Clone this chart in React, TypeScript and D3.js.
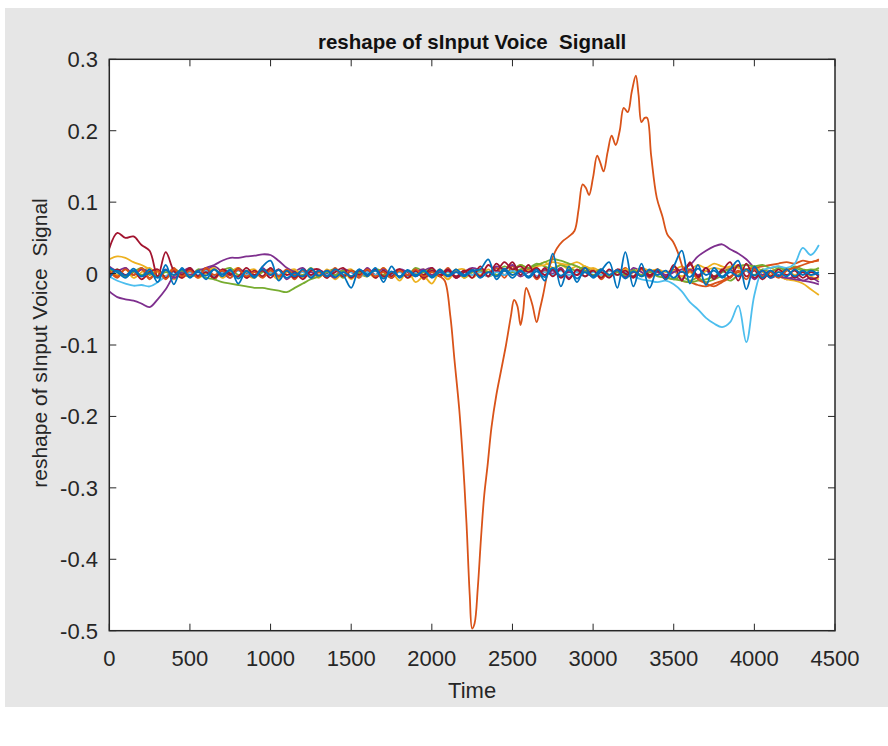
import React from 'react';
import * as d3 from 'd3';

const W = 888;
const H = 746;
const STEP = 50;

const xTicks = [0, 500, 1000, 1500, 2000, 2500, 3000, 3500, 4000, 4500];
const yTicks = [0.3, 0.2, 0.1, 0, -0.1, -0.2, -0.3, -0.4, -0.5];
const yTickLabels = ['0.3', '0.2', '0.1', '0', '-0.1', '-0.2', '-0.3', '-0.4', '-0.5'];

const titleText = 'reshape of sInput Voice  Signall';
const xLabelText = 'Time';
const yLabelText = 'reshape of sInput Voice  Signal';

// uniformly sampled series (every 50 time units, 0..4400)
const blueA = [0.008, 0.002, -0.006, 0.004, -0.004, 0.006, -0.012, 0.012, -0.015, 0.008, -0.006, 0.004, -0.008, 0.006, -0.004, 0.006, -0.014, 0.004, -0.006, 0.010, 0.018, -0.010, 0.004, -0.004, 0.006, -0.006, 0.004, -0.004, 0.006, -0.002, -0.020, 0.006, -0.004, 0.008, -0.012, 0.010, -0.006, 0.004, -0.004, 0.004, -0.004, 0.006, -0.004, 0.002, -0.004, 0.004, 0.006, 0.020, -0.008, 0.004, -0.006, 0.004, -0.004, 0.006, -0.010, 0.028, -0.018, 0.010, -0.012, 0.008, -0.006, 0.004, 0.016, -0.020, 0.030, -0.018, 0.014, -0.020, 0.006, -0.008, 0.010, 0.032, -0.014, 0.012, -0.016, 0.008, -0.004, 0.006, 0.018, -0.022, 0.010, -0.006, 0.004, -0.004, 0.006, -0.004, 0.004, -0.002, 0.002];
const yellowA = [0.020, 0.024, 0.022, 0.016, 0.012, 0.006, 0.002, -0.006, 0.004, -0.004, 0.006, -0.006, 0.002, 0.008, -0.004, 0.004, -0.006, 0.002, 0.006, -0.004, 0.004, -0.006, 0.002, 0.006, -0.004, 0.004, -0.006, 0.006, -0.002, 0.004, -0.008, 0.004, -0.004, 0.006, -0.006, 0.002, -0.010, 0.004, -0.012, -0.004, -0.014, 0.002, -0.008, 0.006, -0.006, 0.004, -0.002, 0.006, -0.004, 0.004, -0.002, 0.006, 0.004, 0.010, 0.012, 0.016, 0.014, 0.012, 0.016, 0.010, 0.006, -0.004, 0.004, -0.002, 0.006, 0.002, 0.008, 0.004, 0.006, 0.002, 0.004, -0.004, 0.002, -0.006, 0.004, 0.008, 0.006, 0.010, 0.008, 0.004, 0.006, 0.002, -0.002, -0.004, -0.008, -0.010, -0.014, -0.022, -0.030];
const purpleA = [-0.025, -0.033, -0.036, -0.038, -0.042, -0.047, -0.036, -0.022, -0.004, 0.002, -0.002, 0.004, 0.008, 0.012, 0.018, 0.022, 0.022, 0.024, 0.025, 0.027, 0.026, 0.018, 0.008, 0.002, -0.004, 0.002, -0.004, 0.004, -0.002, 0.004, -0.004, 0.002, 0.004, -0.004, 0.006, -0.002, 0.004, -0.004, 0.002, 0.006, -0.002, 0.004, -0.004, 0.002, -0.002, 0.004, -0.004, 0.002, 0.004, -0.002, 0.004, -0.004, 0.002, 0.006, -0.002, 0.004, -0.004, 0.002, -0.002, 0.004, -0.004, 0.002, -0.002, 0.004, -0.004, 0.002, -0.002, 0.004, 0.002, -0.004, 0.002, 0.006, 0.012, 0.024, 0.032, 0.038, 0.041, 0.034, 0.028, 0.020, 0.008, -0.002, 0.004, -0.004, -0.006, -0.008, -0.010, -0.012, -0.015];
const greenA = [0.006, 0.002, -0.004, 0.004, -0.002, 0.004, -0.004, 0.002, -0.002, 0.004, -0.004, -0.002, -0.006, -0.008, -0.012, -0.014, -0.016, -0.018, -0.020, -0.020, -0.022, -0.024, -0.026, -0.020, -0.014, -0.008, -0.004, 0.002, -0.002, 0.004, -0.004, 0.002, -0.002, 0.004, -0.002, 0.002, -0.004, 0.004, -0.002, 0.002, 0.006, -0.002, 0.002, -0.004, 0.002, -0.002, 0.004, 0.002, -0.002, 0.004, 0.002, 0.006, 0.008, 0.012, 0.016, 0.020, 0.018, 0.014, 0.010, 0.004, -0.002, 0.002, -0.004, 0.002, -0.002, 0.004, -0.002, 0.002, -0.004, -0.006, -0.008, -0.010, -0.012, -0.010, -0.008, -0.004, 0.002, 0.006, 0.010, 0.012, 0.010, 0.012, 0.008, 0.010, 0.006, 0.008, 0.004, 0.006, 0.004];
const cyanA = [-0.004, -0.010, -0.014, -0.017, -0.016, -0.018, -0.012, -0.004, 0.002, -0.004, 0.002, -0.002, 0.004, -0.004, 0.002, -0.002, 0.004, -0.002, 0.002, -0.004, 0.002, -0.002, 0.004, -0.002, 0.002, -0.004, 0.002, -0.002, 0.004, -0.002, 0.002, -0.004, 0.002, -0.002, 0.004, -0.002, 0.002, -0.004, 0.002, -0.002, 0.004, -0.002, 0.002, -0.004, 0.002, -0.002, 0.002, -0.004, 0.002, -0.002, 0.004, -0.002, 0.002, -0.004, 0.002, -0.002, 0.004, -0.002, 0.002, -0.004, 0.002, -0.002, 0.004, -0.002, 0.002, -0.004, -0.008, -0.010, -0.012, -0.010, -0.015, -0.025, -0.040, -0.050, -0.062, -0.070, -0.075, -0.068, -0.045, -0.096, -0.030, 0.004, 0.008, 0.010, 0.008, 0.014, 0.036, 0.026, 0.040];
const darkRedA = [0.035, 0.057, 0.050, 0.052, 0.040, 0.032, -0.004, 0.030, 0.004, -0.006, 0.006, -0.004, 0.008, -0.006, 0.004, -0.002, 0.006, -0.006, 0.004, -0.004, 0.008, -0.004, 0.004, -0.006, 0.006, -0.002, 0.004, -0.006, 0.006, -0.004, 0.004, -0.002, 0.006, -0.006, 0.004, -0.004, 0.006, -0.002, 0.004, -0.006, 0.004, -0.002, 0.006, -0.004, 0.004, -0.006, 0.010, -0.004, 0.014, 0.004, 0.016, -0.002, 0.012, -0.006, 0.008, -0.004, 0.006, -0.008, 0.006, -0.004, 0.004, -0.006, 0.006, -0.002, 0.004, -0.006, 0.008, -0.004, 0.006, -0.008, 0.012, -0.010, 0.016, -0.006, 0.008, -0.004, 0.004, 0.016, -0.010, 0.014, -0.006, 0.004, -0.004, 0.006, -0.002, 0.004, -0.006, 0.002, -0.004];
const blueB = [-0.006, 0.004, -0.003, 0.007, -0.004, 0.001, -0.006, 0.005, -0.002, 0.006, -0.005, 0.002, -0.003, 0.006, -0.001, 0.004, -0.007, 0.003, -0.004, 0.006, -0.002, 0.005, -0.006, 0.001, -0.004, 0.007, -0.003, 0.004, -0.005, 0.002, -0.004, 0.006, -0.001, 0.004, -0.007, 0.003, -0.004, 0.005, -0.002, 0.004, -0.006, 0.002, -0.003, 0.006, -0.002, 0.005, -0.006, 0.002, -0.004, 0.007, -0.002, 0.004, -0.006, 0.003, -0.005, 0.008, -0.003, 0.005, -0.007, 0.002, -0.004, 0.006, -0.002, 0.005, -0.007, 0.003, -0.004, 0.006, -0.002, 0.004, -0.006, 0.003, -0.005, 0.007, -0.002, 0.004, -0.006, 0.002, -0.004, 0.006, -0.003, 0.004, -0.006, 0.002, -0.004, 0.006, -0.002, 0.004, -0.002];
const orangeB = [0.004, -0.006, 0.008, -0.002, 0.006, -0.008, 0.004, -0.004, 0.008, -0.006, 0.002, -0.004, 0.006, -0.008, 0.004, -0.002, 0.008, -0.006, 0.004, -0.004, 0.006, -0.002, 0.004, -0.008, 0.006, -0.004, 0.002, -0.006, 0.008, -0.004, 0.004, -0.006, 0.006, -0.002, 0.008, -0.006, 0.004, -0.004, 0.006, -0.008, 0.002, -0.004, 0.008, -0.006, 0.004, -0.002, 0.006, -0.004, 0.008, -0.006, 0.010, -0.004, 0.006, -0.008, 0.004, -0.002, 0.008, -0.006, 0.004, -0.004, 0.006, -0.008, 0.004, -0.002, 0.008, -0.004, 0.006, -0.006, 0.004, -0.008, 0.006, -0.010, -0.012, -0.016, -0.018, -0.014, -0.010, -0.004, 0.002, 0.006, 0.008, 0.010, 0.012, 0.014, 0.016, 0.014, 0.018, 0.016, 0.020];
const purpleB = [0.010, 0.004, 0.008, -0.002, 0.006, 0.002, -0.004, 0.006, -0.006, 0.002, 0.008, -0.004, 0.004, 0.010, 0.002, -0.006, 0.006, 0.000, -0.004, 0.008, -0.002, 0.006, -0.008, 0.002, 0.008, -0.004, 0.004, 0.000, -0.006, 0.006, 0.002, -0.004, 0.008, -0.002, 0.004, -0.006, 0.006, 0.002, -0.004, 0.004, 0.008, -0.002, 0.006, -0.006, 0.002, 0.008, 0.004, -0.004, 0.010, 0.006, 0.012, 0.002, 0.008, -0.004, 0.006, 0.000, 0.008, -0.006, 0.004, 0.002, -0.004, 0.006, -0.002, 0.004, -0.006, 0.008, 0.002, -0.004, 0.006, -0.002, 0.004, -0.008, 0.006, -0.002, 0.004, -0.006, 0.002, 0.006, -0.004, 0.004, -0.008, 0.002, -0.006, -0.002, -0.008, -0.004, -0.010, -0.006, -0.012];
const greenB = [-0.002, 0.006, -0.004, 0.002, 0.008, -0.002, 0.004, -0.006, 0.006, 0.000, -0.004, 0.006, 0.002, -0.006, 0.004, 0.008, -0.002, 0.004, -0.004, 0.002, 0.006, -0.006, 0.002, 0.004, -0.002, 0.008, -0.004, 0.002, 0.006, -0.006, 0.004, 0.000, -0.004, 0.006, 0.002, -0.006, 0.004, -0.002, 0.008, 0.002, -0.004, 0.006, -0.002, 0.004, -0.006, 0.002, 0.006, -0.004, 0.002, 0.010, 0.006, 0.012, 0.008, 0.014, 0.010, 0.006, 0.012, 0.008, 0.004, 0.010, 0.002, 0.006, -0.002, 0.004, 0.000, 0.006, -0.004, 0.002, 0.004, -0.004, -0.008, -0.004, -0.010, -0.006, -0.012, -0.008, -0.004, -0.010, -0.002, 0.004, -0.002, 0.006, 0.002, 0.008, 0.004, 0.010, 0.006, 0.004, 0.008];
const yellowB = [0.004, -0.002, 0.006, -0.006, 0.002, 0.008, -0.004, 0.004, -0.008, 0.002, 0.006, -0.004, 0.000, 0.006, -0.006, 0.002, 0.008, -0.002, -0.006, 0.004, 0.000, -0.008, 0.004, 0.002, -0.006, 0.006, -0.002, 0.004, -0.008, 0.002, 0.006, -0.004, 0.002, -0.006, 0.008, -0.002, 0.004, -0.006, 0.000, 0.006, -0.004, 0.002, -0.008, 0.004, 0.006, -0.006, 0.002, -0.004, 0.008, -0.002, 0.004, 0.012, 0.006, 0.010, 0.016, 0.008, 0.012, 0.006, 0.010, 0.004, 0.008, 0.002, -0.004, 0.004, -0.006, 0.002, 0.006, -0.004, 0.002, -0.006, 0.004, 0.010, 0.006, 0.012, 0.008, 0.014, 0.010, 0.008, 0.012, 0.006, 0.010, 0.004, 0.008, 0.002, 0.006, -0.002, 0.004, -0.004, -0.008];
const darkRedB = [-0.004, 0.006, -0.002, 0.004, -0.008, 0.002, 0.006, -0.006, 0.004, -0.002, 0.008, -0.004, 0.002, -0.006, 0.006, 0.000, -0.004, 0.008, -0.002, 0.004, -0.006, 0.006, -0.002, 0.002, -0.008, 0.004, 0.006, -0.004, 0.002, 0.008, -0.006, 0.004, -0.002, 0.006, -0.004, 0.000, 0.006, -0.006, 0.004, -0.002, 0.008, -0.004, 0.004, -0.006, 0.002, 0.006, -0.004, 0.012, 0.004, 0.016, 0.006, 0.010, 0.002, 0.008, -0.002, 0.006, -0.006, 0.004, -0.002, 0.008, -0.004, 0.002, -0.006, 0.006, 0.000, -0.004, 0.008, -0.002, 0.004, -0.006, 0.010, 0.002, 0.014, -0.004, 0.008, -0.008, 0.006, -0.006, 0.012, -0.004, 0.004, -0.008, 0.002, -0.004, 0.006, -0.006, 0.002, -0.008, -0.004];

// the large excursion series (irregular sampling)
const bigTimes = [0, 50, 100, 150, 200, 250, 300, 350, 400, 450, 500, 550, 600, 650, 700, 750, 800, 850, 900, 950, 1000, 1050, 1100, 1150, 1200, 1250, 1300, 1350, 1400, 1450, 1500, 1550, 1600, 1650, 1700, 1750, 1800, 1850, 1900, 1950, 2000, 2050, 2080, 2115, 2140, 2170, 2195, 2215, 2235, 2250, 2265, 2285, 2305, 2325, 2345, 2370, 2400, 2430, 2460, 2490, 2510, 2530, 2550, 2565, 2585, 2605, 2625, 2650, 2670, 2690, 2715, 2745, 2775, 2810, 2850, 2885, 2910, 2935, 2955, 2975, 3000, 3025, 3045, 3065, 3090, 3115, 3140, 3165, 3190, 3215, 3240, 3265, 3282, 3300, 3320, 3335, 3360, 3395, 3430, 3460, 3495, 3525, 3550, 3575, 3600, 3650, 3700, 3750, 3800, 3850, 3900, 3950, 4000, 4050, 4100, 4150, 4200, 4250, 4300, 4350, 4400];
const bigValues = [0.004, -0.004, 0.006, -0.002, 0.008, -0.006, 0.004, -0.008, 0.006, -0.004, 0.004, -0.006, 0.008, -0.002, 0.004, -0.006, 0.006, -0.004, 0.002, -0.006, 0.004, -0.004, 0.006, -0.002, 0.004, -0.006, 0.002, -0.004, 0.006, -0.002, 0.004, -0.004, 0.006, -0.004, 0.002, -0.006, 0.004, -0.002, 0.006, -0.004, 0.002, -0.004, -0.010, -0.060, -0.120, -0.190, -0.270, -0.350, -0.450, -0.497, -0.490, -0.440, -0.370, -0.310, -0.270, -0.215, -0.170, -0.135, -0.100, -0.060, -0.037, -0.045, -0.072, -0.055, -0.020, -0.030, -0.045, -0.068, -0.050, -0.030, -0.002, 0.020, 0.035, 0.045, 0.052, 0.060, 0.090, 0.125, 0.120, 0.110, 0.135, 0.165, 0.155, 0.143, 0.170, 0.193, 0.180, 0.200, 0.232, 0.226, 0.255, 0.277, 0.250, 0.212, 0.218, 0.218, 0.165, 0.106, 0.080, 0.055, 0.045, 0.030, 0.012, -0.002, 0.004, -0.008, -0.014, -0.018, -0.012, -0.006, 0.004, -0.008, 0.006, -0.004, 0.002, -0.006, 0.004, 0.008, 0.012, 0.016, 0.018];

const uniform = (vals: number[]) => vals.map((v, i) => [i * STEP, v] as [number, number]);

const seriesList = [
  { key: 'yellowB', color: '#EDB120', pts: uniform(yellowB) },
  { key: 'greenB', color: '#77AC30', pts: uniform(greenB) },
  { key: 'orangeB', color: '#D95319', pts: uniform(orangeB) },
  { key: 'purpleB', color: '#7E2F8E', pts: uniform(purpleB) },
  { key: 'yellowA', color: '#EDB120', pts: uniform(yellowA) },
  { key: 'purpleA', color: '#7E2F8E', pts: uniform(purpleA) },
  { key: 'greenA', color: '#77AC30', pts: uniform(greenA) },
  { key: 'cyanA', color: '#4DBEEE', pts: uniform(cyanA) },
  { key: 'darkRedB', color: '#A2142F', pts: uniform(darkRedB) },
  { key: 'darkRedA', color: '#A2142F', pts: uniform(darkRedA) },
  { key: 'big', color: '#D95319', pts: bigTimes.map((t, i) => [t, bigValues[i]] as [number, number]) },
  { key: 'blueB', color: '#0072BD', pts: uniform(blueB) },
  { key: 'blueA', color: '#0072BD', pts: uniform(blueA) },
];

export default function App() {
  const left = 109.3;
  const right = 835;
  const top = 59.3;
  const bottom = 630.7;
  const x = d3.scaleLinear().domain([0, 4500]).range([left, right]);
  const y = d3.scaleLinear().domain([-0.5, 0.3]).range([bottom, top]);
  const line = d3
    .line<[number, number]>()
    .x((d) => x(d[0]))
    .y((d) => y(d[1]))
    .curve(d3.curveCatmullRom.alpha(0.5));

  const axisColor = '#262626';
  const font = '"Liberation Sans", Arial, Helvetica, sans-serif';
  const tickLen = 7;

  return (
    <svg
      width={W}
      height={H}
      style={{ position: 'absolute', left: 0, top: 0, background: '#ffffff' }}
    >
      <rect x={5} y={8} width={W - 5} height={699} fill="#e6e6e6" />
      <rect x={left} y={top} width={right - left} height={bottom - top} fill="#ffffff" />
      <defs>
        <clipPath id="plotclip">
          <rect x={left} y={top} width={right - left} height={bottom - top} />
        </clipPath>
      </defs>
      <g clipPath="url(#plotclip)">
        {seriesList.map((s) => (
          <path
            key={s.key}
            d={line(s.pts) || ''}
            fill="none"
            stroke={s.color}
            strokeWidth={1.8}
            strokeLinejoin="round"
          />
        ))}
      </g>
      {xTicks.map((t) => (
        <g key={'xt' + t}>
          <line x1={x(t)} x2={x(t)} y1={bottom} y2={bottom - tickLen} stroke={axisColor} strokeWidth={1} />
          <line x1={x(t)} x2={x(t)} y1={top} y2={top + tickLen} stroke={axisColor} strokeWidth={1} />
          <text x={x(t)} y={666} textAnchor="middle" fontFamily={font} fontSize={22} fill={axisColor}>
            {t}
          </text>
        </g>
      ))}
      {yTicks.map((t, i) => (
        <g key={'yt' + i}>
          <line x1={left} x2={left + tickLen} y1={y(t)} y2={y(t)} stroke={axisColor} strokeWidth={1} />
          <line x1={right} x2={right - tickLen} y1={y(t)} y2={y(t)} stroke={axisColor} strokeWidth={1} />
          <text x={98} y={y(t) + 8} textAnchor="end" fontFamily={font} fontSize={22} fill={axisColor}>
            {yTickLabels[i]}
          </text>
        </g>
      ))}
      <rect
        x={left}
        y={top}
        width={right - left}
        height={bottom - top}
        fill="none"
        stroke={axisColor}
        strokeWidth={1.5}
      />
      <text
        x={(left + right) / 2}
        y={49}
        textAnchor="middle"
        fontFamily={font}
        fontWeight="bold"
        fontSize={20.5}
        fill="#111111"
        style={{ whiteSpace: 'pre' }}
      >
        {titleText}
      </text>
      <text
        x={(left + right) / 2}
        y={698}
        textAnchor="middle"
        fontFamily={font}
        fontSize={22}
        fill={axisColor}
      >
        {xLabelText}
      </text>
      <text
        x={47}
        y={343}
        textAnchor="middle"
        fontFamily={font}
        fontSize={21}
        fill={axisColor}
        transform="rotate(-90, 47, 343)"
        style={{ whiteSpace: 'pre' }}
      >
        {yLabelText}
      </text>
    </svg>
  );
}
